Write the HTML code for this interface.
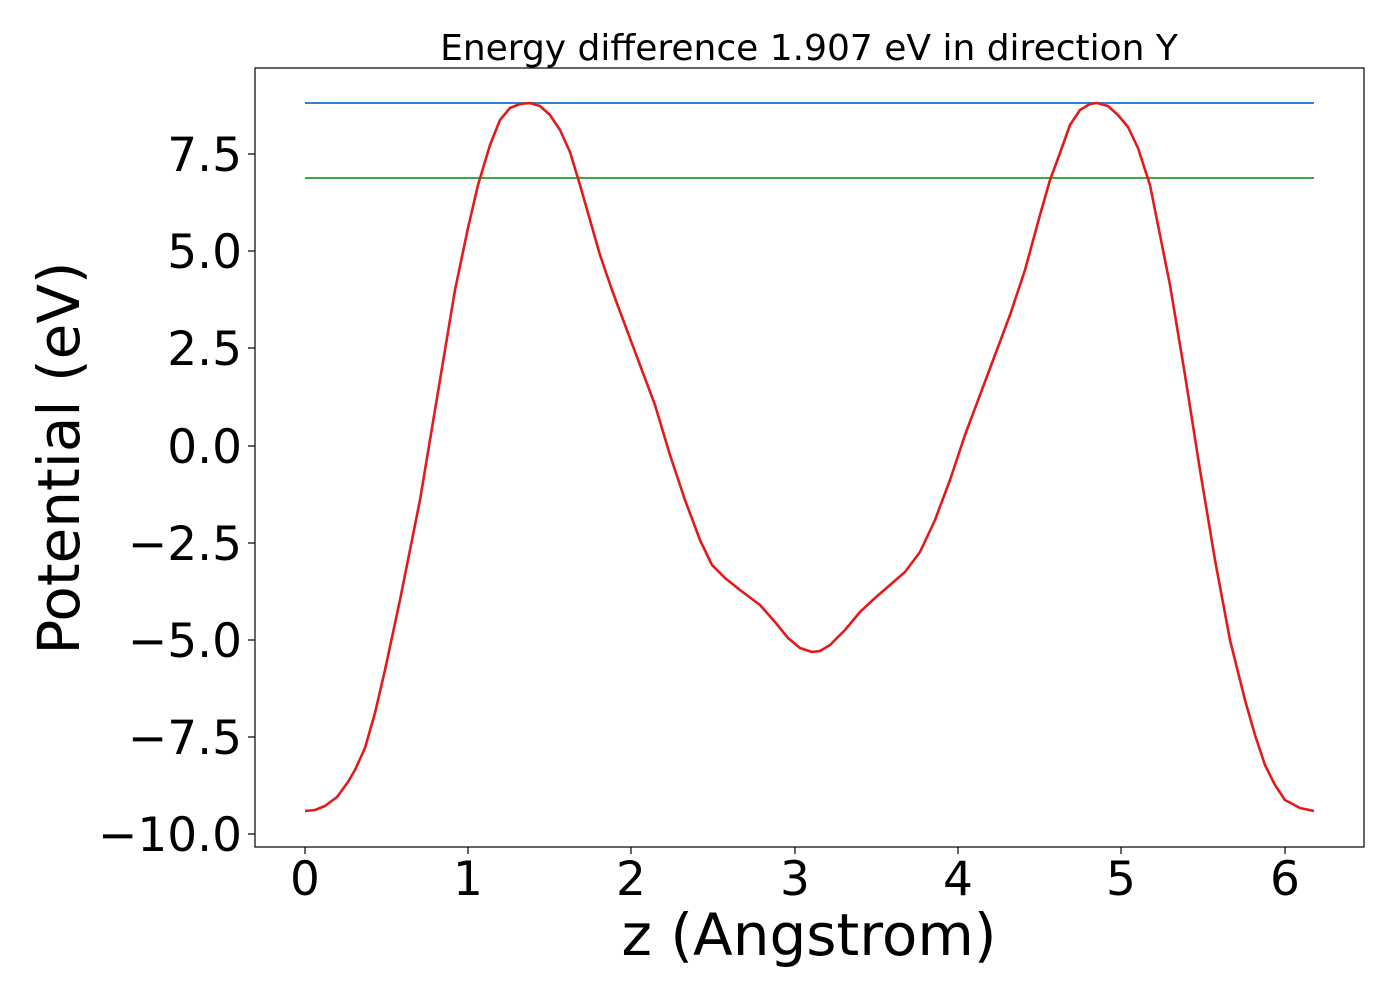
<!DOCTYPE html>
<html><head><meta charset="utf-8"><style>body{margin:0;background:#fff}</style></head><body>
<svg width="1400" height="1000" xmlns="http://www.w3.org/2000/svg" font-family="DejaVu Sans, Liberation Sans, sans-serif">
<rect width="1400" height="1000" fill="#fff"/>
<line x1="305" y1="103" x2="1314" y2="103" stroke="#3182cf" stroke-width="2"/>
<line x1="305" y1="178" x2="1314" y2="178" stroke="#3fa83f" stroke-width="2"/>
<polyline fill="none" stroke="#e31a1c" stroke-width="2.6" stroke-linejoin="round" points="305,811 315,810 325,806 337,797 348,782 355,770 365,748 375,713 385,670 400,600 420,500 440,380 455,290 468,228 478,185 490,145 500,120 510,108 520,104 530,103 540,106 550,115 560,130 570,152 580,185 590,220 600,255 612,290 625,325 640,365 655,405 670,455 685,500 700,540 712,565 725,578 740,590 760,605 775,622 788,638 800,648 812,652 820,651 830,645 845,630 860,612 875,598 890,585 905,572 920,552 935,520 950,480 965,435 980,395 995,355 1010,315 1025,270 1040,215 1050,180 1060,153 1070,125 1080,110 1090,104 1097,103 1108,106 1118,115 1128,127 1138,148 1150,185 1160,235 1170,285 1185,375 1200,470 1215,560 1230,640 1245,700 1255,735 1265,765 1275,785 1285,800 1300,808 1314,811"/>
<rect x="255" y="68" width="1109" height="779" fill="none" stroke="#000" stroke-width="1.2"/>
<g stroke="#000" stroke-width="1.2">
<line x1="305" y1="847" x2="305" y2="854"/><line x1="468" y1="847" x2="468" y2="854"/><line x1="631" y1="847" x2="631" y2="854"/><line x1="795" y1="847" x2="795" y2="854"/><line x1="958" y1="847" x2="958" y2="854"/><line x1="1121" y1="847" x2="1121" y2="854"/><line x1="1285" y1="847" x2="1285" y2="854"/>
<line x1="248" y1="154" x2="255" y2="154"/><line x1="248" y1="251" x2="255" y2="251"/><line x1="248" y1="348" x2="255" y2="348"/><line x1="248" y1="446" x2="255" y2="446"/><line x1="248" y1="543" x2="255" y2="543"/><line x1="248" y1="640" x2="255" y2="640"/><line x1="248" y1="737" x2="255" y2="737"/><line x1="248" y1="834" x2="255" y2="834"/>
</g>
<g font-size="47" text-anchor="middle" fill="#000">
<text x="305" y="895">0</text><text x="468" y="895">1</text><text x="631" y="895">2</text><text x="795" y="895">3</text><text x="958" y="895">4</text><text x="1121" y="895">5</text><text x="1285" y="895">6</text>
</g>
<g font-size="47" text-anchor="end" fill="#000">
<text x="242" y="171">7.5</text><text x="242" y="268">5.0</text><text x="242" y="365">2.5</text><text x="242" y="463">0.0</text><text x="242" y="560">−2.5</text><text x="242" y="657">−5.0</text><text x="242" y="754">−7.5</text><text x="242" y="851">−10.0</text>
</g>
<text x="809" y="955" font-size="58" text-anchor="middle">z (Angstrom)</text>
<text transform="translate(79,458) rotate(-90)" font-size="58" text-anchor="middle">Potential (eV)</text>
<text x="809" y="60" font-size="36" text-anchor="middle">Energy difference 1.907 eV in direction Y</text>
</svg>
</body></html>
